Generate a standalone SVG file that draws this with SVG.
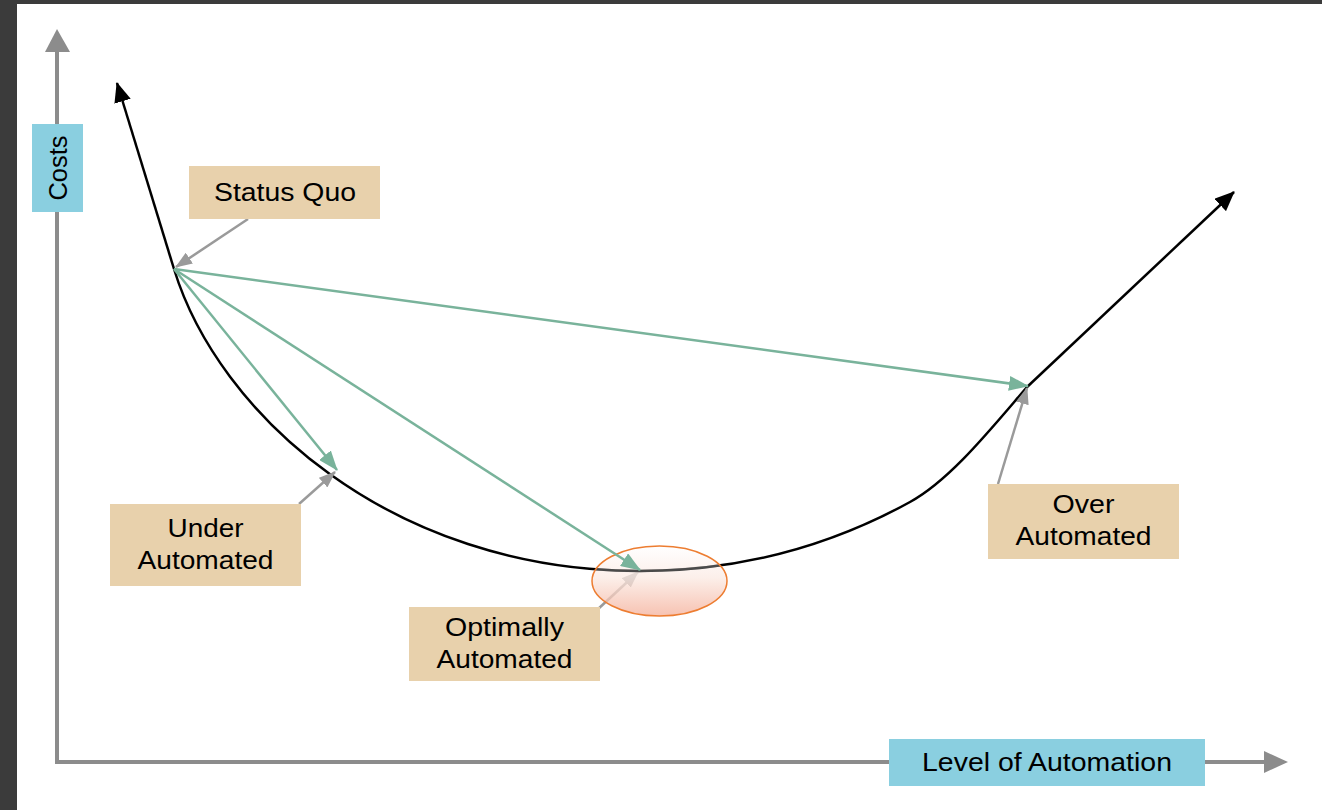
<svg xmlns="http://www.w3.org/2000/svg" width="1322" height="810" viewBox="0 0 1322 810">
<style>
.box{fill:#E8D1AC}
.axbox{fill:#8ACFE0}
.t{font-family:"Liberation Sans",Arial,sans-serif;font-size:25.5px;fill:#000;text-anchor:middle}
.axis{stroke:#8C8C8C;stroke-width:4;fill:none}
.curve{stroke:#000;stroke-width:2.5;fill:none}
.green{stroke:#79B39B;stroke-width:2.5;fill:none;marker-end:url(#ag)}
.gray{stroke:#9A9A9A;stroke-width:2.5;fill:none;marker-end:url(#ay)}
</style>
<defs>
<marker id="ab" viewBox="0 0 20 17" refX="19" refY="8.5" markerWidth="20" markerHeight="17" markerUnits="userSpaceOnUse" orient="auto"><path d="M0,0 L20,8.5 L0,17 z" fill="#000"/></marker>
<marker id="ag" viewBox="0 0 20 15" refX="19" refY="7.5" markerWidth="20" markerHeight="15" markerUnits="userSpaceOnUse" orient="auto"><path d="M0,0 L20,7.5 L0,15 z" fill="#79B39B"/></marker>
<marker id="ay" viewBox="0 0 17 13" refX="16" refY="6.5" markerWidth="17" markerHeight="13" markerUnits="userSpaceOnUse" orient="auto"><path d="M0,0 L17,6.5 L0,13 z" fill="#9A9A9A"/></marker>
<linearGradient id="eg" x1="0" y1="0" x2="0" y2="1">
<stop offset="0" stop-color="#FFFFFF"/>
<stop offset="0.45" stop-color="#FBEAE3"/>
<stop offset="1" stop-color="#F4AE98"/>
</linearGradient>
<clipPath id="ec"><ellipse cx="659.5" cy="581" rx="67.5" ry="35"/></clipPath>
</defs>
<rect width="1322" height="810" fill="#FFFFFF"/>
<rect x="0" y="0" width="1322" height="4" fill="#3B3B3B"/>
<rect x="0" y="0" width="17" height="810" fill="#3B3B3B"/>

<g id="axes">
<line class="axis" x1="57" y1="50" x2="57" y2="764"/>
<line class="axis" x1="55" y1="762" x2="1266" y2="762"/>
<path d="M57,29 L70,52 L45,52 z" fill="#8C8C8C"/>
<path d="M1288,762 L1264,751 L1264,773 z" fill="#8C8C8C"/>
</g>

<g id="cost-curve">
<line class="curve" x1="174" y1="269" x2="117" y2="83" marker-end="url(#ab)"/>
<path class="curve" d="M174,269 C218,413 390,571 640,571 C760,571 850,535 910,502 C950,480 990,430 1027,387"/>
<line class="curve" x1="1026" y1="388" x2="1234" y2="192" marker-end="url(#ab)"/>
</g>

<g id="connectors">
<line class="gray" x1="248" y1="219" x2="176" y2="267"/>
<line class="gray" x1="299" y1="504" x2="335" y2="472"/>
<line class="gray" x1="597" y1="610" x2="638" y2="572"/>
<line class="gray" x1="998" y1="484" x2="1027" y2="388"/>
</g>

<g id="optimum-highlight">
<ellipse cx="659.5" cy="581" rx="67.5" ry="35" fill="url(#eg)" fill-opacity="0.75"/>
<path d="M174,269 C218,413 390,571 640,571 C760,571 850,535 910,502" fill="none" stroke="#4A4A4A" stroke-width="2.5" clip-path="url(#ec)"/>
<ellipse cx="659.5" cy="581" rx="67.5" ry="35" fill="none" stroke="#ED7D31" stroke-width="1.5"/>
</g>

<g id="transitions">
<line class="green" x1="174" y1="269" x2="337" y2="470"/>
<line class="green" x1="174" y1="269" x2="640" y2="570"/>
<line class="green" x1="174" y1="269" x2="1028" y2="386"/>
</g>

<g id="costs-label">
<rect class="axbox" x="32" y="124" width="51" height="88"/>
<text class="t" transform="translate(66.5,168) rotate(-90)" x="0" y="0" textLength="65" lengthAdjust="spacingAndGlyphs">Costs</text>
</g>

<g id="level-label">
<rect class="axbox" x="889" y="739" width="316" height="47"/>
<text class="t" x="1047" y="771" textLength="250" lengthAdjust="spacingAndGlyphs">Level of Automation</text>
</g>

<g id="status-quo">
<rect class="box" x="189" y="166" width="191" height="53"/>
<text class="t" x="285" y="201" textLength="142" lengthAdjust="spacingAndGlyphs">Status Quo</text>
</g>

<g id="under-automated">
<rect class="box" x="110" y="504" width="191" height="82"/>
<text class="t" x="205.5" y="537" textLength="76" lengthAdjust="spacingAndGlyphs">Under</text>
<text class="t" x="205.5" y="569" textLength="136" lengthAdjust="spacingAndGlyphs">Automated</text>
</g>

<g id="optimally-automated">
<rect class="box" x="409" y="607" width="191" height="74"/>
<text class="t" x="504.5" y="636" textLength="119" lengthAdjust="spacingAndGlyphs">Optimally</text>
<text class="t" x="504.5" y="668" textLength="136" lengthAdjust="spacingAndGlyphs">Automated</text>
</g>

<g id="over-automated">
<rect class="box" x="988" y="484" width="191" height="75"/>
<text class="t" x="1083.5" y="513" textLength="62" lengthAdjust="spacingAndGlyphs">Over</text>
<text class="t" x="1083.5" y="545" textLength="136" lengthAdjust="spacingAndGlyphs">Automated</text>
</g>
</svg>
